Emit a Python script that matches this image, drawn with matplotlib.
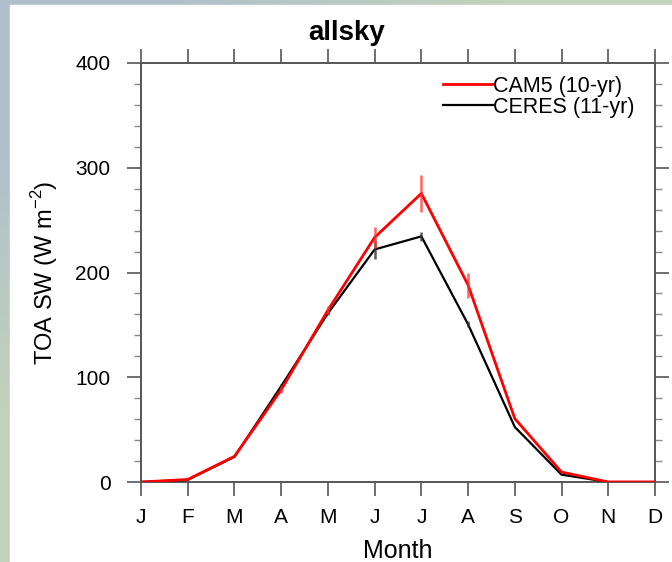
#!/usr/bin/env python3
import numpy as np
import matplotlib
matplotlib.use("Agg")
import matplotlib.pyplot as plt
from matplotlib.colors import LinearSegmentedColormap
from matplotlib.ticker import MultipleLocator

months = ["J", "F", "M", "A", "M", "J", "J", "A", "S", "O", "N", "D"]
cam5 = [0, 2.4, 24.5, 88, 164, 233.5, 275.5, 188, 60.5, 9.5, 0, 0]
cam5_err = [0, 0, 0, 3, 4, 10, 18, 12, 0, 0, 0, 0]
ceres = [0, 2, 24, 91.5, 161, 222, 234.5, 150.5, 52.5, 7, 0, 0]
ceres_err = [0, 0, 0, 2, 2, 9, 4, 3, 0, 0, 0, 0]

plt.rcParams["font.family"] = ["Liberation Sans", "DejaVu Sans"]

W, H = 672, 562
fig = plt.figure(figsize=(W / 100, H / 100), dpi=100)

# blurred photo-like backdrop at the edges, white panel on top
bg = fig.add_axes([0, 0, 1, 1], zorder=-10)
cmap = LinearSegmentedColormap.from_list("bg", ["#b0bfcb", "#c3d2bb"])
grad = np.array([[0.0, 1.0], [1.0, 0.9]])
bg.imshow(grad, cmap=cmap, aspect="auto", interpolation="bilinear",
          extent=[0, 1, 0, 1], origin="upper")
bg.add_patch(plt.Rectangle((10 / W, 0), 1, (H - 5) / H, color="white"))
bg.set_xlim(0, 1)
bg.set_ylim(0, 1)
bg.axis("off")

ax = fig.add_axes([141 / W, (H - 482) / H, (655 - 141) / W, (482 - 63) / H])
x = np.arange(len(months))

ax.plot(x, ceres, color="black", lw=1.6, zorder=3, label="CERES (11-yr)")
ax.errorbar(x, ceres, yerr=ceres_err, fmt="none", ecolor="#333333",
            elinewidth=1.8, capsize=0, alpha=0.8, zorder=3)
ax.plot(x, cam5, color="#ff0000", lw=2.0, zorder=4, label="CAM5 (10-yr)")
ax.errorbar(x, cam5, yerr=cam5_err, fmt="none", ecolor="#ff3030",
            elinewidth=1.8, capsize=0, alpha=0.75, zorder=4)

ax.set_xlim(0, 11)
ax.set_ylim(0, 400)
ax.set_xticks(x)
ax.set_xticklabels(months, fontsize=15)
ax.yaxis.set_major_locator(MultipleLocator(100))
ax.yaxis.set_minor_locator(MultipleLocator(20))
ax.tick_params(axis="both", which="major", direction="out", length=10,
               width=1.2, color="#555555", top=True, right=True,
               labelsize=15, pad=12)
ax.tick_params(axis="y", which="minor", direction="out", length=5,
               width=1.0, color="#888888", right=True)
ax.tick_params(axis="x", which="major", pad=9)
for s in ax.spines.values():
    s.set_color("#555555")
    s.set_linewidth(1.4)

ax.set_xlabel("Month", fontsize=18, labelpad=8)
ax.set_ylabel("TOA SW (W m$^{\\mathregular{-2}}$)", fontsize=17, labelpad=11)
fig.text(347 / W, 1 - 33 / H, "allsky", fontsize=20, fontweight="bold",
         ha="center", va="center")

handles, labels = ax.get_legend_handles_labels()
ax.legend(handles[::-1], labels[::-1], loc="upper right",
          bbox_to_anchor=(0.985, 1.0), frameon=False, fontsize=15.5,
          handlelength=2.3, handletextpad=0.0, labelspacing=0.0,
          borderaxespad=0.2)

fig.savefig("out.png", dpi=100)
